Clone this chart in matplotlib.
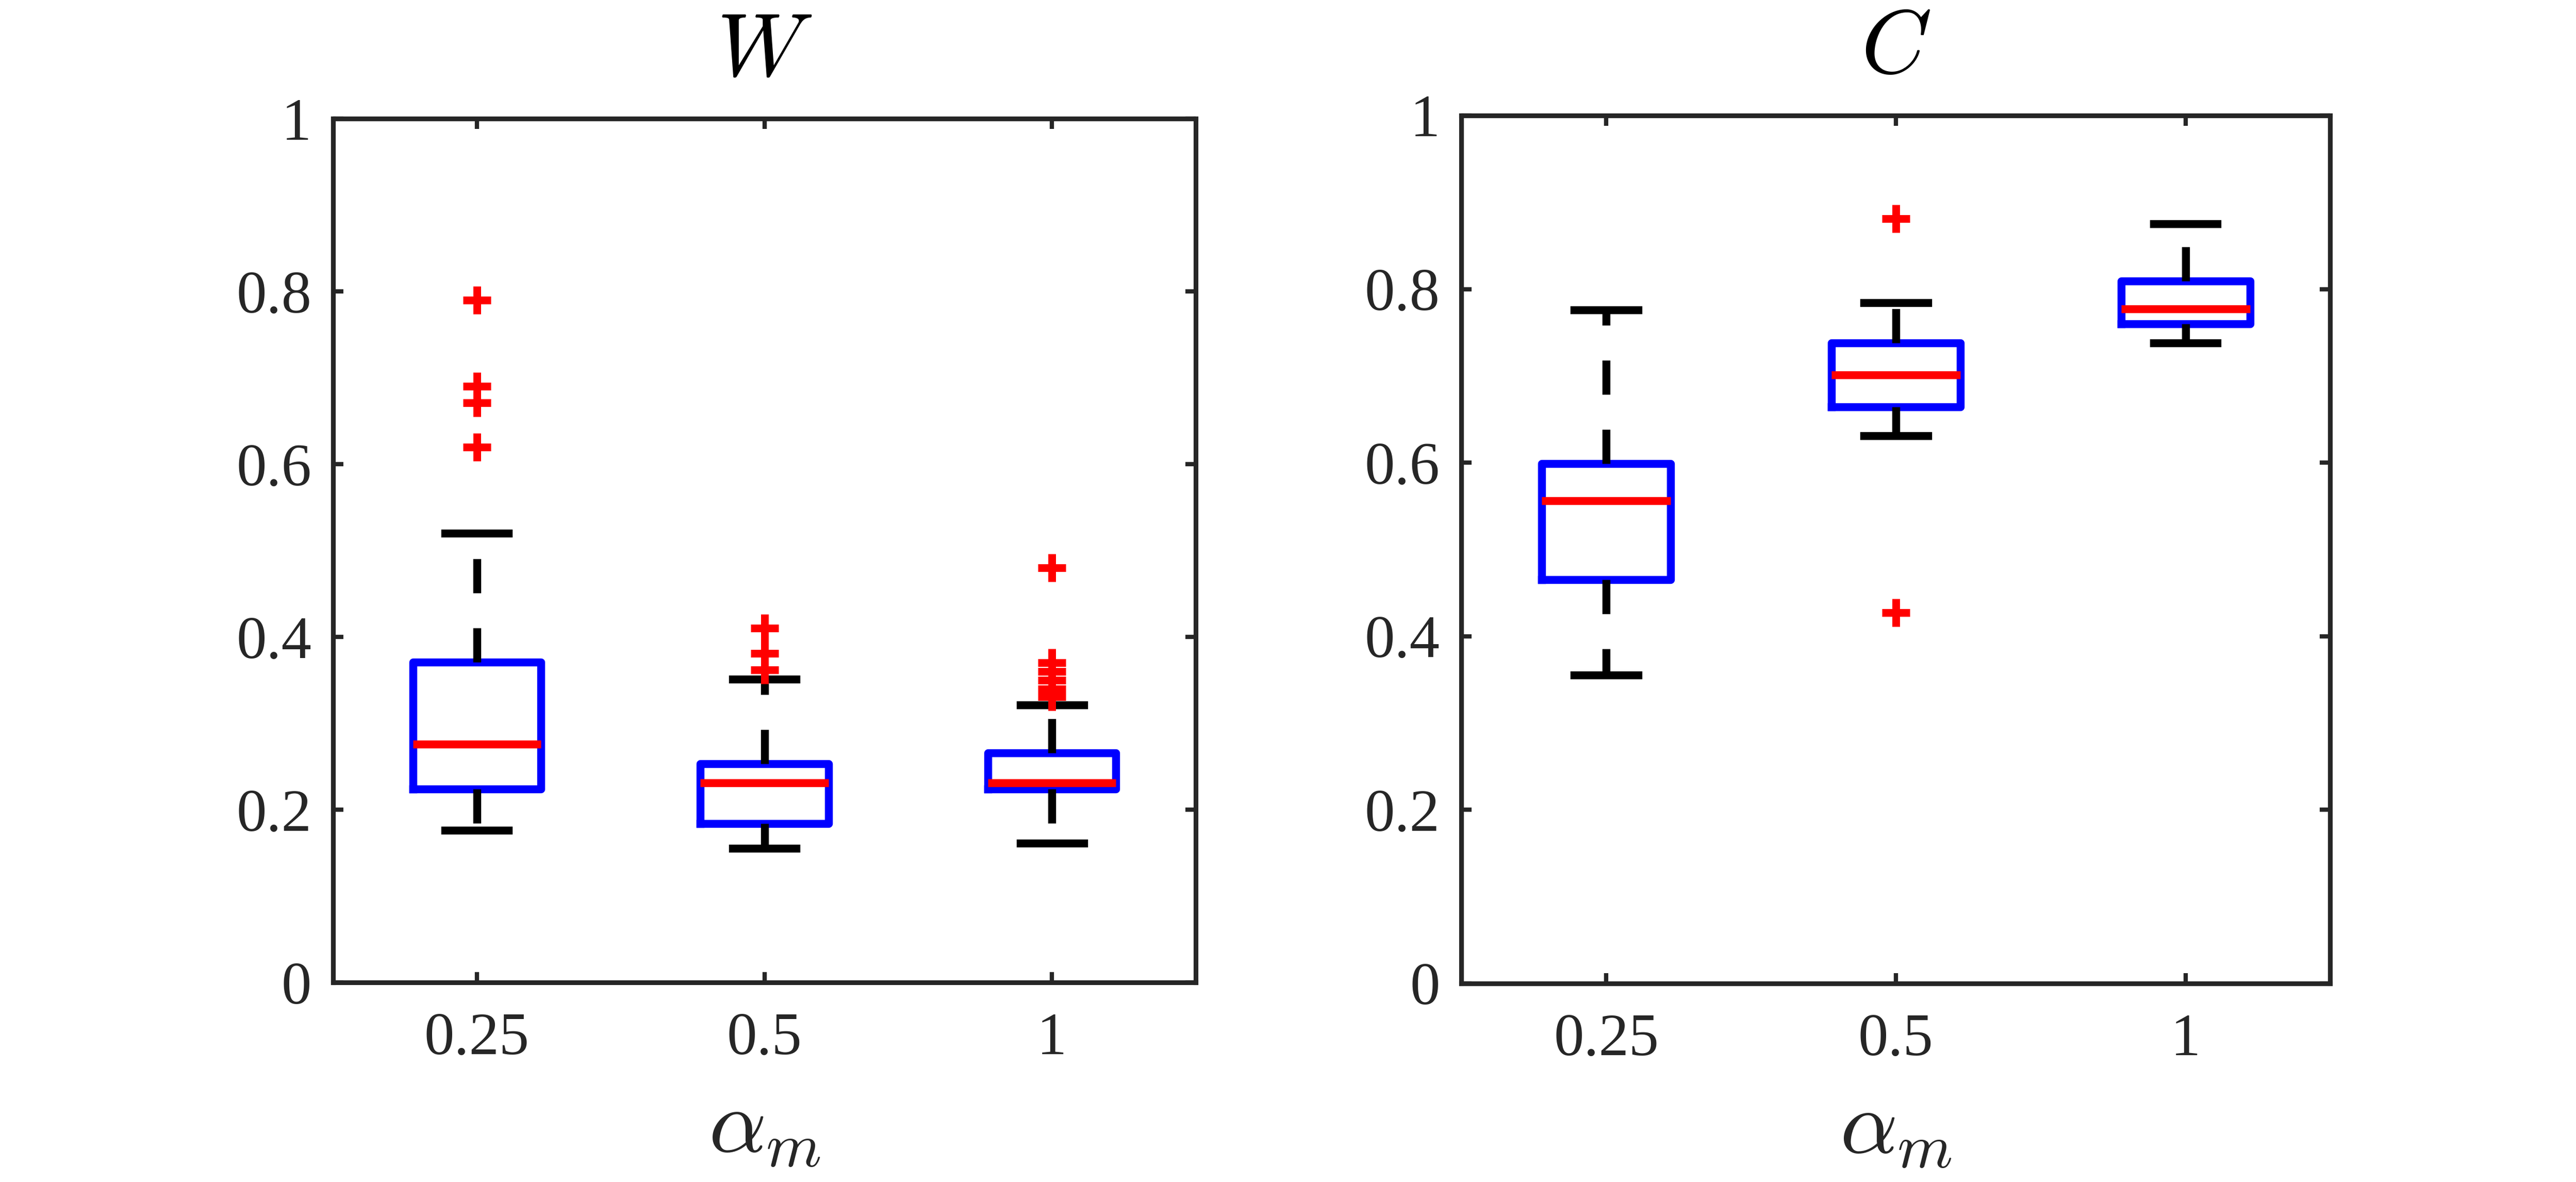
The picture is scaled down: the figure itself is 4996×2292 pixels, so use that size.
import matplotlib
matplotlib.use("Agg")
import matplotlib.pyplot as plt

# box statistics, one entry per alpha_m value
alpha_labels = ["0.25", "0.5", "1"]

# W panel
w_q1 = [0.224, 0.184, 0.224]
w_med = [0.276, 0.231, 0.231]
w_q3 = [0.371, 0.253, 0.266]
w_lo = [0.176, 0.155, 0.161]
w_hi = [0.520, 0.351, 0.321]
w_fliers = [
    [0.790, 0.690, 0.671, 0.620],
    [0.410, 0.381, 0.362],
    [0.480, 0.370, 0.360, 0.350, 0.340, 0.331],
]

# C panel
c_q1 = [0.465, 0.664, 0.760]
c_med = [0.556, 0.701, 0.777]
c_q3 = [0.599, 0.738, 0.809]
c_lo = [0.355, 0.631, 0.738]
c_hi = [0.776, 0.784, 0.875]
c_fliers = [
    [],
    [0.881, 0.427],
    [],
]

plt.rcParams["font.family"] = ["Liberation Serif", "DejaVu Serif"]
plt.rcParams["mathtext.fontset"] = "cm"


def make_stats(q1, med, q3, lo, hi, fliers):
    stats = []
    for i in range(len(med)):
        stats.append(dict(q1=q1[i], med=med[i], q3=q3[i],
                          whislo=lo[i], whishi=hi[i], fliers=fliers[i]))
    return stats


def draw_panel(ax, stats, title):
    lw = 3.7
    ax.bxp(stats, positions=[1, 2, 3], widths=0.445, capwidths=0.22,
           boxprops=dict(color="#0000ff", linewidth=lw),
           medianprops=dict(color="#ff0000", linewidth=lw),
           whiskerprops=dict(color="black", linewidth=lw,
                             linestyle=(0, (4.3, 4.4))),
           capprops=dict(color="black", linewidth=lw),
           flierprops=dict(marker="+", markersize=13, markeredgewidth=3.6,
                           markeredgecolor="#ff0000", linestyle="none"))
    ax.set_xlim(0.5, 3.5)
    ax.set_ylim(0, 1)
    ax.set_xticks([1, 2, 3])
    ax.set_xticklabels(alpha_labels)
    ax.set_yticks([0, 0.2, 0.4, 0.6, 0.8, 1])
    ax.set_yticklabels(["0", "0.2", "0.4", "0.6", "0.8", "1"])
    ax.tick_params(direction="in", length=4.8, width=2.0, colors="#262626",
                   labelsize=28, top=True, right=True, labelcolor="#262626")
    ax.tick_params(axis="y", pad=10)
    ax.tick_params(axis="x", pad=14)
    for sp in ax.spines.values():
        sp.set_linewidth(2.2)
        sp.set_color("#262626")
    ax.set_title(title, fontsize=42, pad=20)
    ax.set_xlabel(r"$\alpha_m$", fontsize=42, labelpad=10, color="#262626")


fig = plt.figure(figsize=(4996 / 300, 2292 / 300), dpi=300)
ax1 = fig.add_axes([0.1293, 0.1688, 0.3349, 0.7308])
ax2 = fig.add_axes([0.5673, 0.1680, 0.3373, 0.7343])

draw_panel(ax1, make_stats(w_q1, w_med, w_q3, w_lo, w_hi, w_fliers), r"$W$")
draw_panel(ax2, make_stats(c_q1, c_med, c_q3, c_lo, c_hi, c_fliers), r"$C$")

fig.savefig("out.png", dpi=300)
